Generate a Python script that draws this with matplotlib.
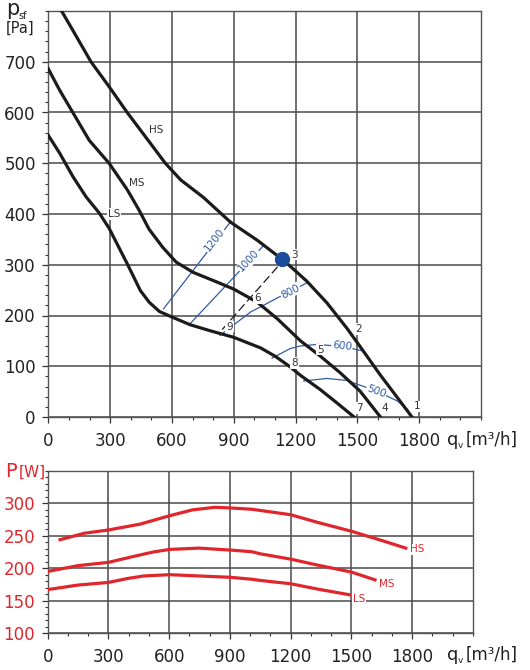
import matplotlib
matplotlib.use("Agg")
import matplotlib.pyplot as plt
from matplotlib.ticker import MultipleLocator

plt.rcParams['font.family'] = ['DejaVu Sans']

# fan curves p_sf [Pa] vs q_v [m3/h]
hs_q = [63, 119, 207, 295, 383, 472, 568, 643, 752, 884, 1015, 1134, 1180, 1256, 1352, 1449, 1513, 1609, 1689, 1765]
hs_p = [801, 762, 700, 651, 600, 552, 500, 467, 433, 384, 348, 311, 295, 267, 225, 175, 139, 84, 41, 0]
ms_q = [0, 55, 119, 199, 295, 383, 440, 489, 556, 621, 703, 818, 900, 1015, 1113, 1224, 1320, 1417, 1513, 1612]
ms_p = [686, 644, 600, 545, 500, 448, 408, 370, 334, 305, 285, 266, 252, 226, 193, 150, 120, 87, 51, 0]
ls_q = [0, 55, 119, 183, 247, 295, 310, 383, 447, 490, 539, 600, 687, 785, 900, 1031, 1100, 1170, 1224, 1320, 1400, 1484]
ls_p = [555, 520, 474, 434, 402, 372, 360, 302, 249, 226, 208, 197, 182, 170, 157, 136, 120, 100, 82, 54, 28, 0]

# rpm lines (blue)
rpm_lines = {
    '1200': ([559, 887], [213, 386]),
    '1000': ([684, 1045], [182, 338]),
    '800': ([834, 982, 1063, 1113, 1175, 1262], [161, 207, 224, 235, 247, 266]),
    '600': ([1086, 1175, 1224, 1305, 1425, 1529], [116, 135, 140, 143, 139, 130]),
    '500': ([1240, 1352, 1449, 1593, 1697, 1745], [71, 76, 72, 51, 31, 14]),
}
rpm_label_pos = {'1200': (805, 349, 52), '1000': (974, 308, 47),
                 '800': (1175, 247, 28), '600': (1425, 139, -6), '500': (1593, 51, -20)}

# operating point and system line
op_q, op_p = 1134, 311
sys_q = [1113, 826]
sys_p = [296, 164]

# point numbers
pt_labels = ['1', '2', '3', '4', '5', '6', '7', '8', '9']
pt_q = [1789, 1508, 1195, 1633, 1320, 1015, 1508, 1195, 879]
pt_p = [21, 173, 320, 18, 133, 235, 18, 107, 178]

# power curves P [W]
phs_q = [61, 182, 300, 456, 602, 715, 827, 900, 1006, 1053, 1200, 1329, 1500, 1652, 1768]
phs_w = [244, 254, 259, 268, 281, 290, 294, 293, 291, 289, 282.5, 271, 257, 242.5, 231]
pms_q = [0, 150, 300, 408, 521, 602, 747, 900, 1006, 1053, 1200, 1329, 1500, 1616]
pms_w = [195, 204, 209, 217, 225, 229, 231, 228, 225.5, 222, 214, 205, 194, 182]
pls_q = [0, 150, 300, 392, 473, 602, 747, 900, 1006, 1053, 1200, 1329, 1490]
pls_w = [167, 174, 178, 184, 188, 190, 188, 186, 183, 181, 176, 168, 159]

x_ticks = [0, 300, 600, 900, 1200, 1500, 1800]

black = '#1b1b1b'
blue = '#2f5ca6'
red = '#e0262c'
gridc = '#4a4a4a'
box = dict(fc='white', ec='none', pad=0.6)

fig = plt.figure(figsize=(5.3, 6.7), dpi=100)
ax1 = fig.add_axes([48.3/530, 1-417/670, (481-48.3)/530, (417-11)/670])
ax2 = fig.add_axes([47.7/530, 1-633/670, (473-47.7)/530, (633-471)/670])


def style(ax, yticks, ylim, yminor, tickcolor):
    ax.set_xlim(0, 2100)
    ax.set_ylim(*ylim)
    ax.set_xticks(x_ticks)
    ax.set_yticks(yticks)
    ax.xaxis.set_minor_locator(MultipleLocator(100))
    ax.yaxis.set_minor_locator(MultipleLocator(yminor))
    ax.grid(True, which='major', color=gridc, lw=1.1)
    ax.set_axisbelow(True)
    ax.tick_params(which='major', direction='out', length=4, width=0.9, color='#333333', labelsize=12)
    ax.tick_params(which='minor', direction='out', length=2.5, width=0.8, color='#333333')
    ax.tick_params(axis='x', pad=7, labelcolor='#222222')
    ax.tick_params(axis='y', pad=5, labelcolor=tickcolor)
    for s in ax.spines.values():
        s.set_color('#555555')
        s.set_linewidth(1.0)


style(ax1, list(range(0, 701, 100)), (0, 800), 20, '#222222')
style(ax2, [100, 150, 200, 250, 300], (100, 350), 10, red)

# top chart
for name, (q, p) in rpm_lines.items():
    ax1.plot(q, p, color=blue, lw=0.9, zorder=2)
    lx, ly, rot = rpm_label_pos[name]
    ax1.text(lx, ly, name, color=blue, fontsize=7.5, rotation=rot, rotation_mode='anchor',
             ha='center', va='center', bbox=box, zorder=4)

ax1.plot(sys_q, sys_p, color=black, lw=0.9, dashes=(7, 3), zorder=2)
for q, p in [(hs_q, hs_p), (ms_q, ms_p), (ls_q, ls_p)]:
    ax1.plot(q, p, color=black, lw=2.3, solid_joinstyle='round', zorder=3)
ax1.plot([op_q], [op_p], 'o', color='#1a4c9c', ms=10, zorder=5)

for t, q, p in zip(pt_labels, pt_q, pt_p):
    ax1.text(q, p, t, fontsize=7.5, color='#333333', ha='center', va='center', bbox=box, zorder=4)
ax1.text(525, 566, 'HS', fontsize=7.5, color='#333333', ha='center', va='center', bbox=box, zorder=4)
ax1.text(427, 461, 'MS', fontsize=7.5, color='#333333', ha='center', va='center', bbox=box, zorder=4)
ax1.text(320, 400, 'LS', fontsize=7.5, color='#333333', ha='center', va='center', bbox=box, zorder=4)

# bottom chart
for q, w in [(phs_q, phs_w), (pms_q, pms_w), (pls_q, pls_w)]:
    ax2.plot(q, w, color=red, lw=2.3, solid_joinstyle='round', zorder=3)
ax2.text(1826, 229, 'HS', fontsize=7.5, color=red, ha='center', va='center', bbox=box, zorder=4)
ax2.text(1676, 176, 'MS', fontsize=7.5, color=red, ha='center', va='center', bbox=box, zorder=4)
ax2.text(1539, 152.5, 'LS', fontsize=7.5, color=red, ha='center', va='center', bbox=box, zorder=4)

# axis labels
fig.text(6/530, 1-15/670, 'p', fontsize=15, color='#222222', va='baseline')
fig.text(18/530, 1-19/670, 'sf', fontsize=7, color='#222222', va='baseline')
fig.text(6/530, 1-33/670, '[Pa]', fontsize=10.5, color='#222222', va='baseline')

for base in (445, 660):
    fig.text(447/530, 1-base/670, 'q', fontsize=13, color='#222222', va='baseline')
    fig.text(458/530, 1-(base+3)/670, 'v', fontsize=6.5, color='#222222', va='baseline')
    fig.text(466/530, 1-base/670, '[m\u00b3/h]', fontsize=12, color='#222222', va='baseline')

fig.text(5/530, 1-477/670, 'P', fontsize=14, color=red, va='baseline')
fig.text(19/530, 1-477/670, '[W]', fontsize=11, color=red, va='baseline')

fig.savefig('out.png', dpi=100)
